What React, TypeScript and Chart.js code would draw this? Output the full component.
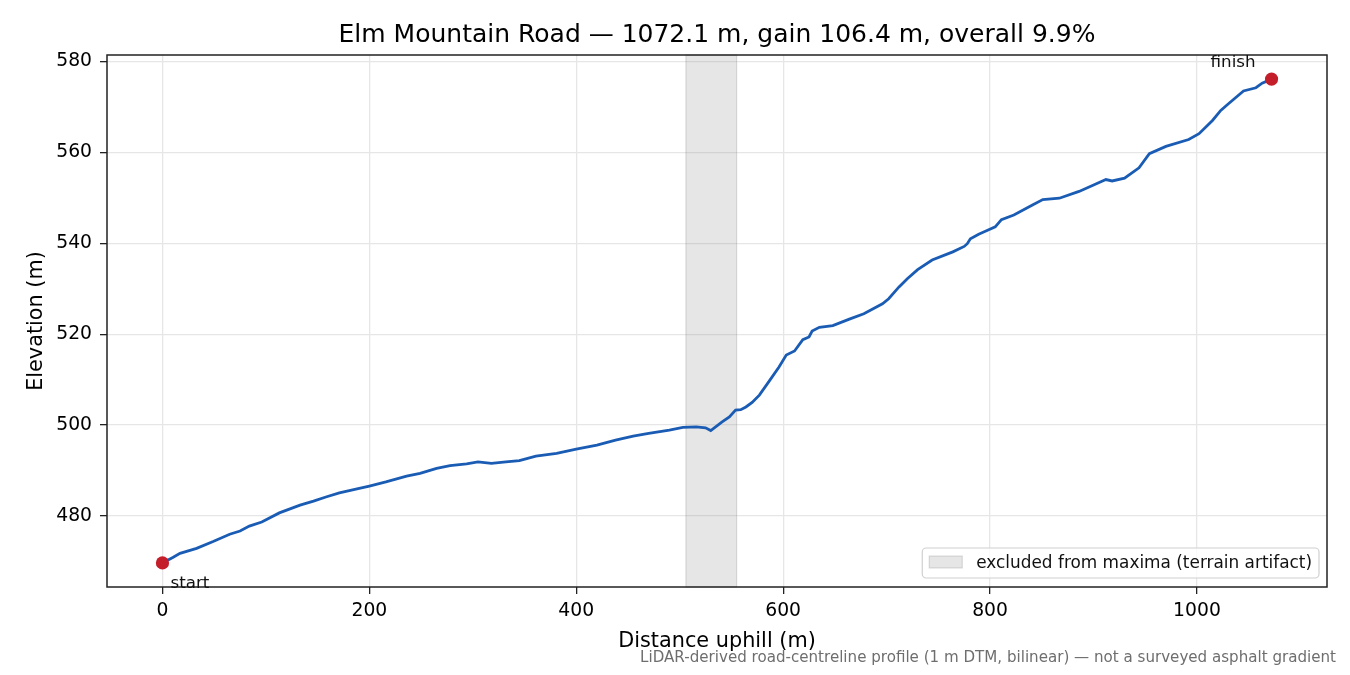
import { useEffect, useRef } from "react";
import { Chart, registerables } from "chart.js";

Chart.register(...registerables);

// distance along the road (m) and elevation (m)
const distances = [
  0, 10, 17, 33, 49, 65, 75, 84, 96, 113, 133, 146, 158, 171, 187, 200, 216, 236, 249, 265,
  278, 294, 305, 318, 332, 345, 361, 381, 400, 420, 438, 455, 470, 490, 503, 516, 525, 530,
  541, 548, 554, 559, 564, 570, 577, 586, 596, 603, 611, 619, 625, 628, 635, 648, 664, 678,
  696, 702, 712, 720, 730, 744, 764, 775, 778, 781, 789, 796, 805, 811, 823, 841, 851, 867,
  886, 899, 912, 918, 930, 944, 954, 970, 992, 1002, 1015, 1023, 1031, 1045, 1057, 1063, 1072.1,
];
const elevations = [
  469.7, 470.9, 471.8, 472.9, 474.4, 476.0, 476.7, 477.8, 478.7, 480.7, 482.4, 483.3, 484.2,
  485.1, 485.9, 486.6, 487.5, 488.8, 489.4, 490.5, 491.1, 491.5, 491.9, 491.6, 491.9, 492.2,
  493.2, 493.8, 494.7, 495.6, 496.7, 497.6, 498.2, 498.9, 499.5, 499.6, 499.4, 498.8, 500.7,
  501.8, 503.3, 503.4, 504.0, 505.0, 506.6, 509.5, 512.8, 515.4, 516.3, 518.8, 519.4, 520.7,
  521.5, 521.9, 523.3, 524.5, 526.7, 527.8, 530.4, 532.2, 534.2, 536.3, 538.1, 539.3, 539.9,
  541.0, 542.0, 542.7, 543.6, 545.2, 546.2, 548.4, 549.6, 549.9, 551.4, 552.7, 554.0, 553.7,
  554.3, 556.6, 559.7, 561.3, 562.8, 564.1, 567.0, 569.2, 570.8, 573.5, 574.2, 575.2, 576.1,
];
const endpointNames = ["start", "finish"];
const excludedRange = [506, 555];
const xTicks = [0, 200, 400, 600, 800, 1000];
const yTicks = [480, 500, 520, 540, 560, 580];

const titleText = "Elm Mountain Road — 1072.1 m, gain 106.4 m, overall 9.9%";
const xTitle = "Distance uphill (m)";
const yTitle = "Elevation (m)";
const legendText = "excluded from maxima (terrain artifact)";
const footnote =
  "LiDAR-derived road-centreline profile (1 m DTM, bilinear) — not a surveyed asphalt gradient";

const FONT = "'DejaVu Sans', sans-serif";
const LINE = "#1a5cb4";
const DOT = "#c41e2a";
const BAND = "rgba(128,128,128,0.2)";

const overlay = {
  id: "overlay",
  beforeDatasetsDraw(chart: any) {
    const { ctx, chartArea: a, scales } = chart;
    const x0 = scales.x.getPixelForValue(excludedRange[0]);
    const x1 = scales.x.getPixelForValue(excludedRange[1]);
    ctx.save();
    ctx.fillStyle = BAND;
    ctx.fillRect(x0, a.top, x1 - x0, a.bottom - a.top);
    ctx.strokeStyle = "rgba(128,128,128,0.25)";
    ctx.lineWidth = 1.2;
    ctx.strokeRect(x0, a.top, x1 - x0, a.bottom - a.top);
    ctx.restore();
  },
  afterDraw(chart: any) {
    const { ctx, chartArea: a, scales } = chart;
    ctx.save();

    // frame
    ctx.strokeStyle = "#222";
    ctx.lineWidth = 1.5;
    ctx.strokeRect(a.left, a.top, a.right - a.left, a.bottom - a.top);

    const cx = (a.left + a.right) / 2;
    ctx.fillStyle = "#000";
    ctx.textAlign = "center";
    ctx.textBaseline = "alphabetic";
    ctx.font = `25px ${FONT}`;
    ctx.fillText(titleText, cx, 42);

    ctx.font = `20.8px ${FONT}`;
    ctx.fillText(xTitle, cx, 646.5);
    ctx.save();
    ctx.translate(41.7, (a.top + a.bottom) / 2);
    ctx.rotate(-Math.PI / 2);
    ctx.fillText(yTitle, 0, 0);
    ctx.restore();

    // endpoint labels
    const last = distances.length - 1;
    const sx = scales.x.getPixelForValue(distances[0]);
    const sy = scales.y.getPixelForValue(elevations[0]);
    const fx = scales.x.getPixelForValue(distances[last]);
    const fy = scales.y.getPixelForValue(elevations[last]);
    ctx.font = `16.7px ${FONT}`;
    ctx.fillStyle = "#111";
    ctx.textAlign = "left";
    ctx.fillText(endpointNames[0], sx + 8, sy + 25);
    ctx.textAlign = "right";
    ctx.fillText(endpointNames[1], fx - 16, fy - 12.5);

    // legend
    ctx.font = `16.9px ${FONT}`;
    const tw = ctx.measureText(legendText).width;
    const bw = 7 + 33 + 14 + tw + 7;
    const bh = 30;
    const bx = a.right - 8 - bw;
    const by = a.bottom - 9 - bh;
    ctx.beginPath();
    ctx.roundRect(bx, by, bw, bh, 4);
    ctx.fillStyle = "rgba(255,255,255,0.8)";
    ctx.fill();
    ctx.strokeStyle = "#d0d0d0";
    ctx.lineWidth = 1.2;
    ctx.stroke();
    ctx.fillStyle = BAND;
    ctx.fillRect(bx + 7, by + 8, 33, 12);
    ctx.strokeStyle = "rgba(128,128,128,0.25)";
    ctx.strokeRect(bx + 7, by + 8, 33, 12);
    ctx.fillStyle = "#111";
    ctx.textAlign = "left";
    ctx.textBaseline = "middle";
    ctx.fillText(legendText, bx + 54, by + bh / 2 + 0.5);

    // footnote
    ctx.font = `15.1px ${FONT}`;
    ctx.fillStyle = "#6e6e6e";
    ctx.textAlign = "right";
    ctx.textBaseline = "alphabetic";
    ctx.fillText(footnote, 1336, 661.7);

    ctx.restore();
  },
};

export default function App() {
  const canvasRef = useRef<HTMLCanvasElement>(null);
  const chartInstance = useRef<Chart | null>(null);

  useEffect(() => {
    document.body.style.margin = "0";
    if (!canvasRef.current) return;
    if (chartInstance.current) chartInstance.current.destroy();

    const profile = distances.map((d, i) => ({ x: d, y: elevations[i] }));
    const last = distances.length - 1;
    const ends = [
      { x: distances[0], y: elevations[0] },
      { x: distances[last], y: elevations[last] },
    ];

    const tickFont = { family: FONT, size: 18.75, lineHeight: 1 };
    const grid = {
      color: "#e6e6e6",
      lineWidth: 1.3,
      tickColor: "#222",
      tickLength: 7,
      tickWidth: 1.3,
    };

    chartInstance.current = new Chart(canvasRef.current, {
      type: "scatter",
      data: {
        datasets: [
          {
            data: ends,
            showLine: false,
            pointRadius: 6.6,
            pointBackgroundColor: DOT,
            pointBorderWidth: 0,
            order: 0,
          },
          {
            data: profile,
            showLine: true,
            borderColor: LINE,
            borderWidth: 2.8,
            pointRadius: 0,
            tension: 0,
            order: 1,
          },
        ],
      },
      options: {
        animation: false,
        responsive: true,
        maintainAspectRatio: false,
        devicePixelRatio: 1,
        layout: { padding: { left: 0, top: 55, right: 23, bottom: 0 } },
        plugins: { legend: { display: false }, tooltip: { enabled: false } },
        scales: {
          x: {
            type: "linear",
            min: -53.6,
            max: 1125.7,
            afterBuildTicks: (s: any) => {
              s.ticks = xTicks.map((v) => ({ value: v }));
            },
            afterFit: (s: any) => {
              s.height = 88;
            },
            grid,
            border: { display: false },
            ticks: {
              font: tickFont,
              color: "#000",
              padding: 8,
              maxRotation: 0,
              autoSkip: false,
              callback: (v: any) => String(v),
            },
          },
          y: {
            type: "linear",
            min: 464.4,
            max: 581.4,
            afterBuildTicks: (s: any) => {
              s.ticks = yTicks.map((v) => ({ value: v }));
            },
            afterFit: (s: any) => {
              s.width = 107;
            },
            grid,
            border: { display: false },
            ticks: {
              font: tickFont,
              color: "#000",
              padding: 8,
              autoSkip: false,
              callback: (v: any) => String(v),
            },
          },
        },
      },
      plugins: [overlay],
    });

    return () => {
      if (chartInstance.current) {
        chartInstance.current.destroy();
        chartInstance.current = null;
      }
    };
  }, []);

  return (
    <div style={{ width: "1350px", height: "675px", position: "relative" }}>
      <canvas ref={canvasRef} />
    </div>
  );
}
